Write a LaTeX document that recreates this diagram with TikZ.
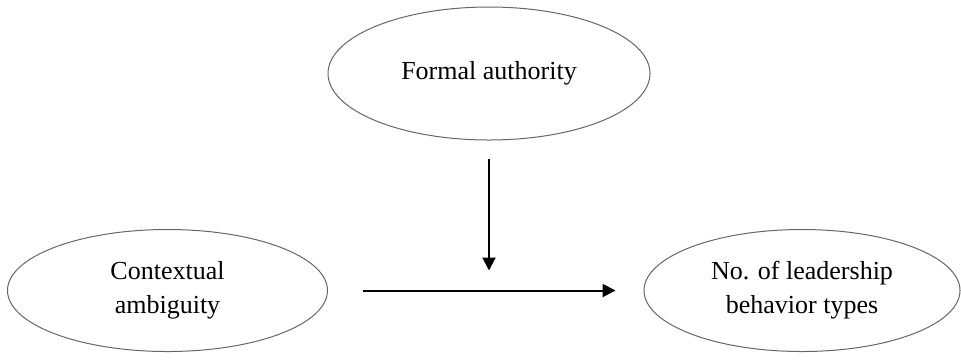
\documentclass[tikz,border=0pt]{standalone}
\usepackage{fontspec}
\setmainfont{Liberation Serif}
\usepackage{tikz}
\usetikzlibrary{shapes.geometric, arrows.meta, positioning}

\begin{document}
\begin{tikzpicture}[x=1pt, y=1pt, on grid,
        factor/.style={ellipse, draw=black!60, line width=0.5pt, inner sep=0pt,
            minimum width=160pt, minimum height=61pt, align=center,
            font=\fontsize{13}{17}\selectfont},
        link/.style={-{Triangle[length=6.5pt, width=6.5pt]}, line width=1pt}]
        \useasboundingbox (0,0) rectangle (480.5,-180.5);

        % Nodes
        \node[factor, minimum width=161pt, minimum height=66.5pt] (auth) at (244.5,-36.75) {Formal authority};
        \node[factor] (ctx) [below left=108.5pt and 160.75pt of auth] {Contextual\\ambiguity};
        \node[factor, minimum width=158pt] (types) [below right=108.5pt and 156.5pt of auth] {No. of leadership\\behavior types};
        \coordinate[below=98.5pt of auth] (meet);

        % Arrows
        \path[link]
            (auth) edge [shorten <=9pt] (meet)
            (ctx) edge [shorten <=17.5pt, shorten >=14pt] (types);
    \end{tikzpicture}
\end{document}
